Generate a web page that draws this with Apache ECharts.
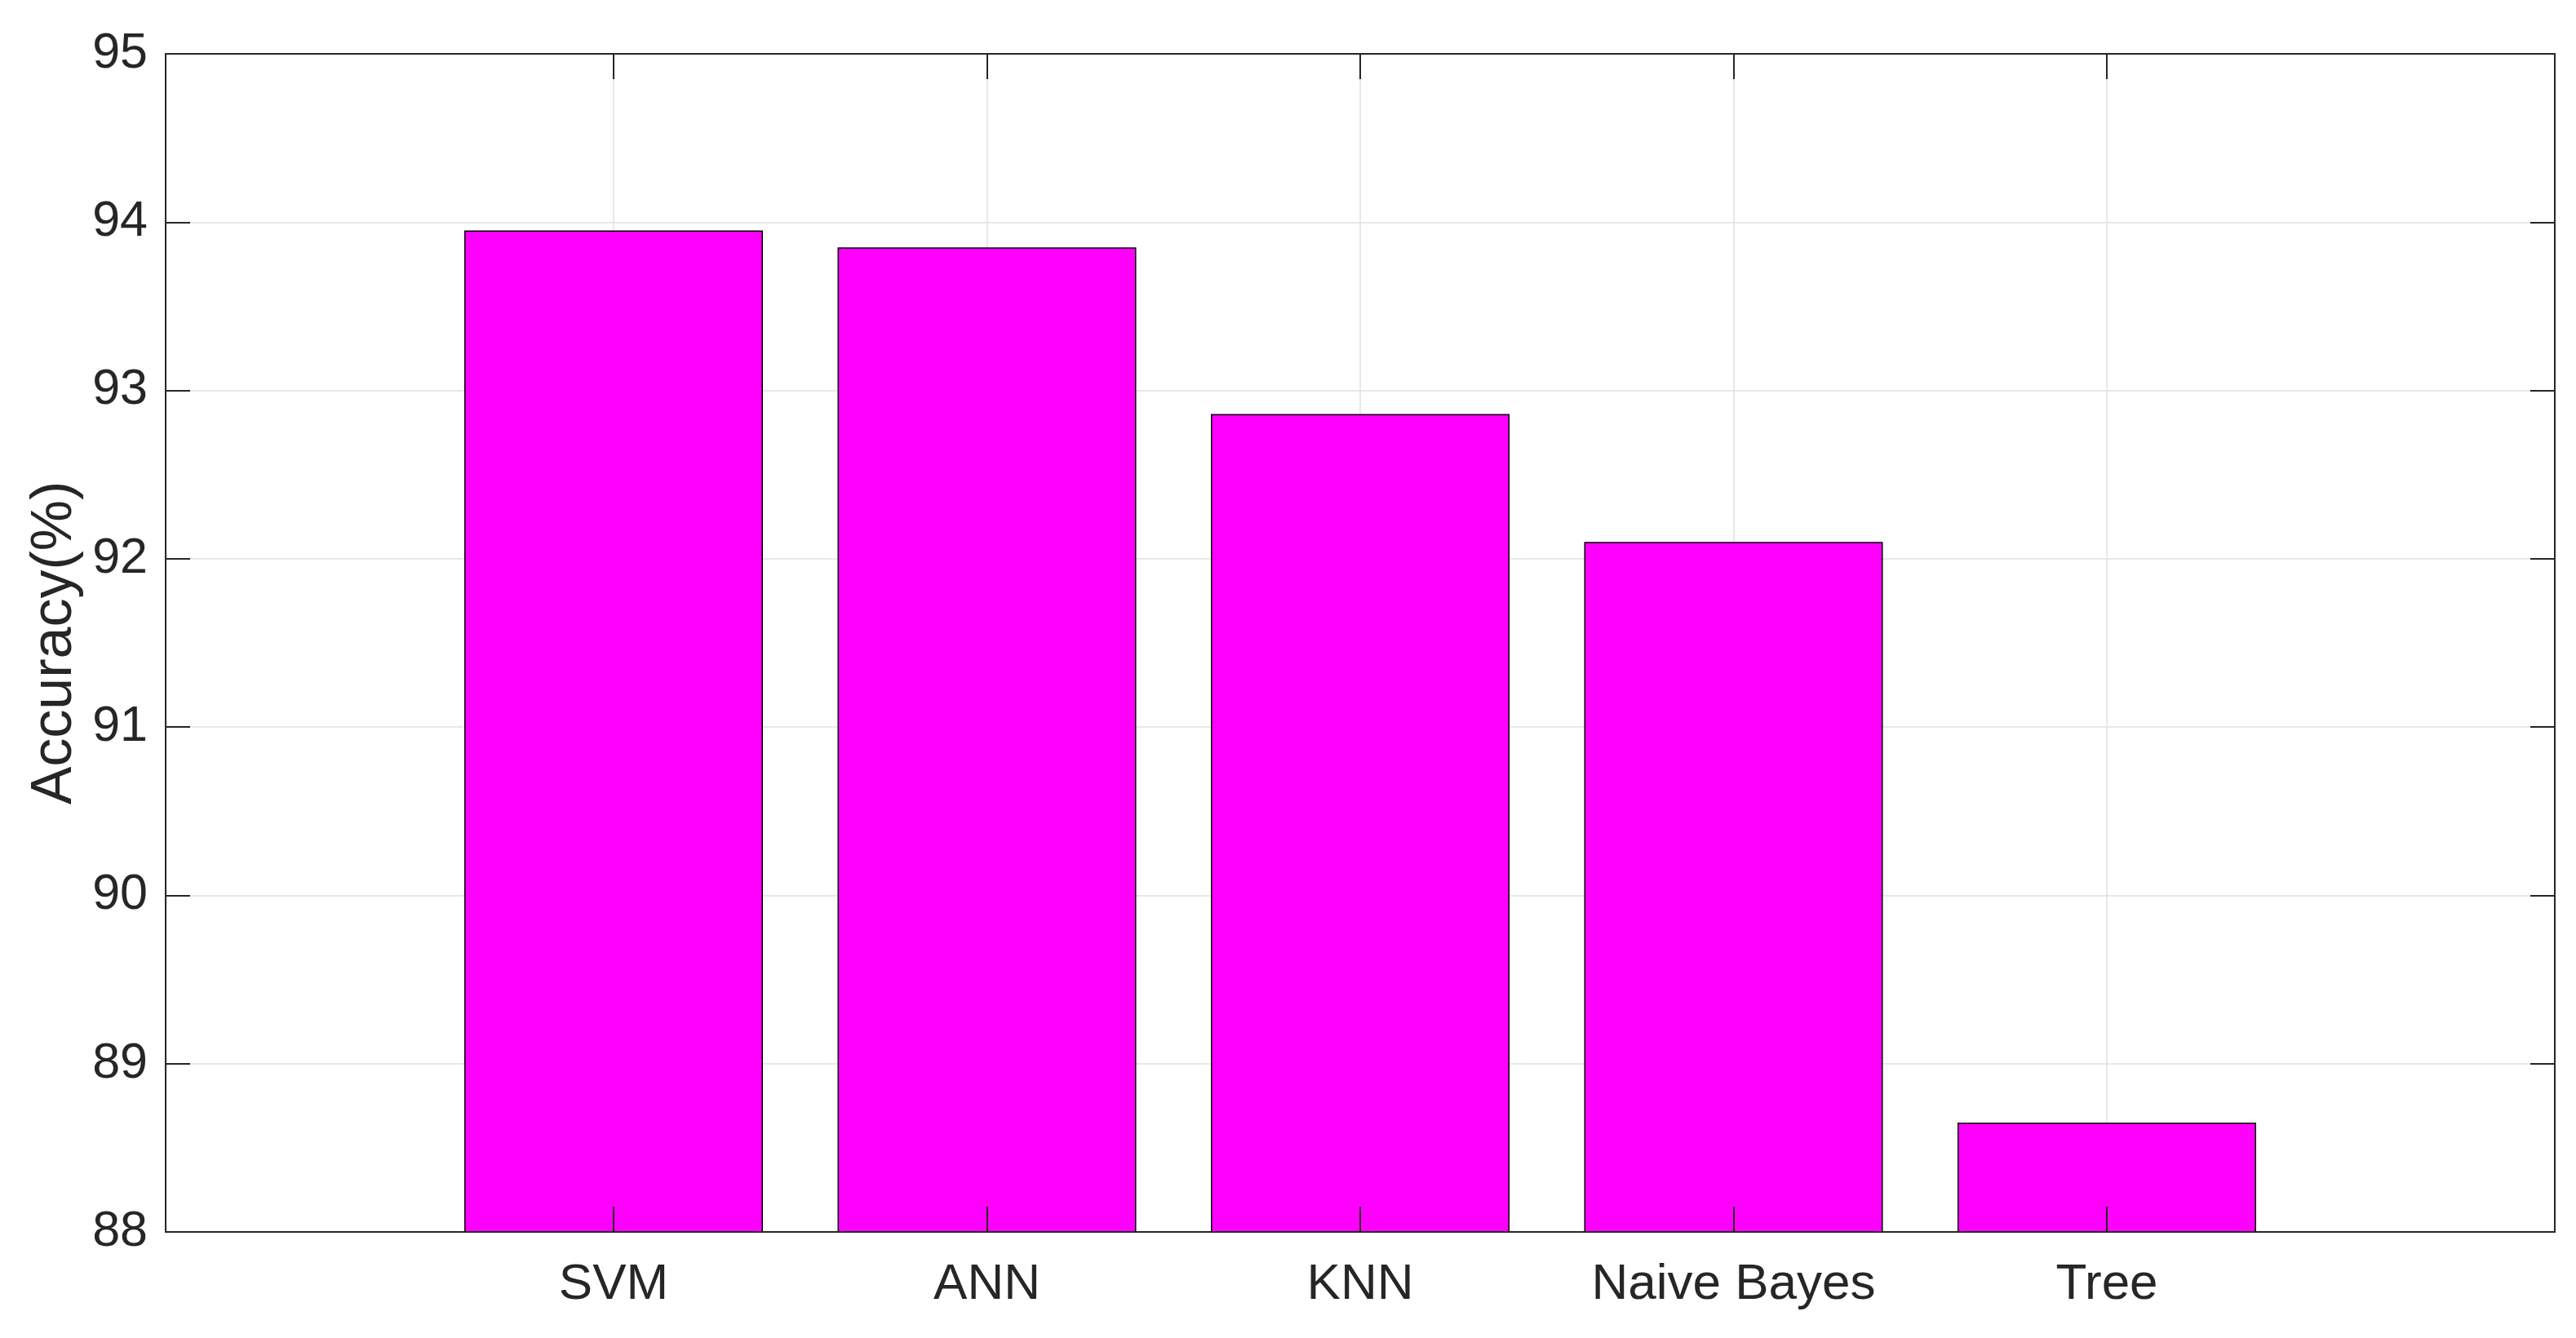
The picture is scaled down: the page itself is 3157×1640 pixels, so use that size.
<!DOCTYPE html>
<html>
<head>
<meta charset="utf-8">
<script src="https://cdn.jsdelivr.net/npm/echarts@6/dist/echarts.min.js"></script>
<style>
  html, body { margin: 0; padding: 0; background: #fff; }
  #chart { width: 3157px; height: 1640px; }
</style>
</head>
<body>
<div id="chart"></div>
<script>
// categories and accuracy values (%)
const categories = ['SVM', 'ANN', 'KNN', 'Naive Bayes', 'Tree'];
const positions = [1, 2, 3, 4, 5];
const accuracy = [93.95, 93.85, 92.86, 92.10, 88.65];
const yTicks = [88, 89, 90, 91, 92, 93, 94, 95];

const ink = '#262626';
const font = 'Liberation Sans, Arial, Helvetica, sans-serif';

var chart = echarts.init(document.getElementById('chart'));

// x axis runs a bit beyond the bars, like matlab's default bar limits
const xBase = {
    type: 'value',
    min: -0.2,
    max: 6.2,
    z: 20,
    axisLine: { show: true, onZero: false, lineStyle: { color: ink, width: 2 } },
    axisTick: { show: true, inside: true, length: 31, customValues: positions, lineStyle: { color: ink, width: 2 } },
    splitLine: { show: false },
};

const yBase = {
    type: 'value',
    min: yTicks[0],
    max: yTicks[yTicks.length - 1],
    interval: 1,
    axisLine: { show: true, onZero: false, lineStyle: { color: ink, width: 2 } },
    axisTick: { show: true, inside: true, length: 30, lineStyle: { color: ink, width: 2 } },
};

chart.setOption({
    animation: false,
    backgroundColor: '#fff',
    grid: { left: 203, right: 26, top: 66, bottom: 130 },
    xAxis: [
        Object.assign({}, xBase, {
            position: 'bottom',
            axisLabel: {
                show: true,
                customValues: positions,
                margin: 34,
                color: ink,
                fontSize: 62,
                fontFamily: font,
                formatter: function (v) {
                    return categories[positions.indexOf(Math.round(v))] || '';
                },
            },
        }),
        Object.assign({}, xBase, {
            position: 'top',
            axisLabel: { show: false },
        }),
    ],
    yAxis: [
        Object.assign({}, yBase, {
            position: 'left',
            name: 'Accuracy(%)',
            nameLocation: 'middle',
            nameGap: 97,
            nameTextStyle: { color: ink, fontSize: 70, fontFamily: font },
            axisLabel: { color: ink, fontSize: 61, fontFamily: font, margin: 22 },
            splitLine: { show: true, lineStyle: { color: '#e0e0e0', width: 1.5 } },
        }),
        Object.assign({}, yBase, {
            position: 'right',
            axisLabel: { show: false },
            splitLine: { show: false },
        }),
    ],
    series: [
        {
            type: 'bar',
            z: 10,
            barWidth: '80%',
            data: positions.map((p, i) => [p, accuracy[i]]),
            itemStyle: { color: '#ff00ff', borderColor: '#000', borderWidth: 1.5 },
            // vertical grid lines at each category
            markLine: {
                silent: true,
                symbol: 'none',
                label: { show: false },
                lineStyle: { color: '#e0e0e0', width: 1.5, type: 'solid' },
                data: positions.map(p => ({ xAxis: p })),
            },
        },
    ],
});
</script>
</body>
</html>
